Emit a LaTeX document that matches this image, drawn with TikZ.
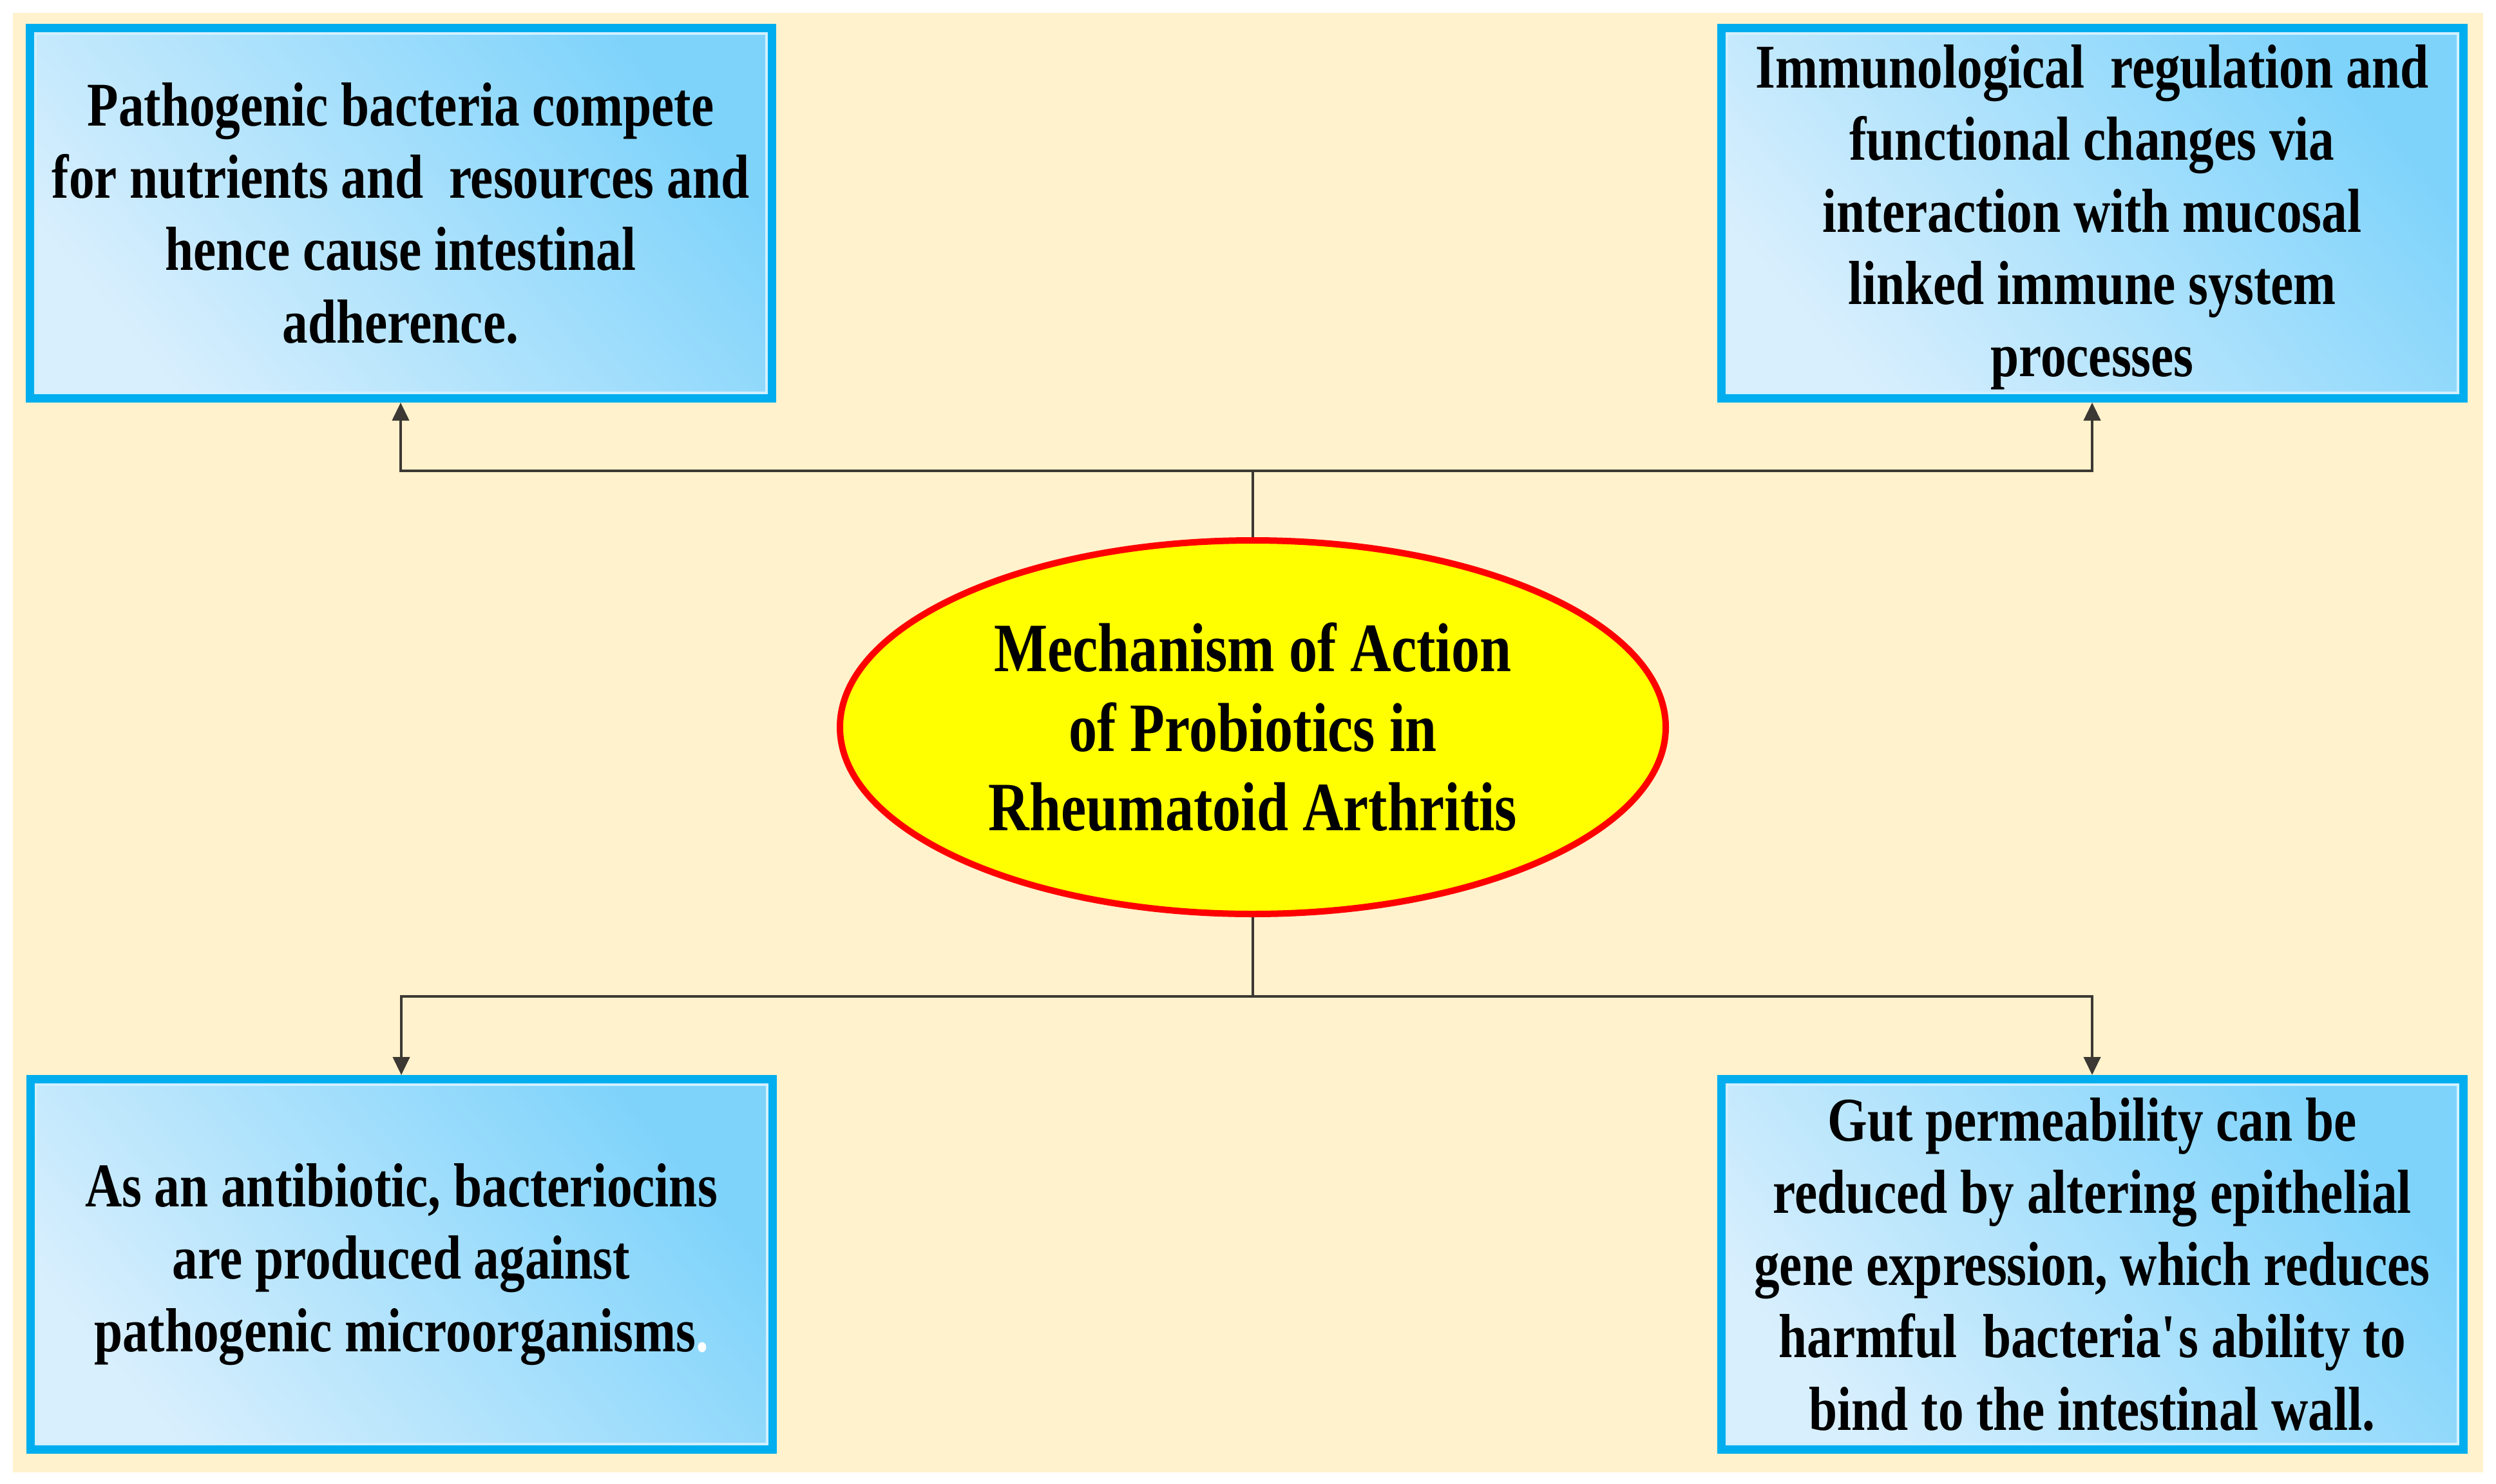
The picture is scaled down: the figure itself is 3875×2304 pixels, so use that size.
\documentclass[tikz,border=0pt]{standalone}
\usepackage{fontspec}
\setmainfont{Liberation Serif}
\newfontfamily\condfont[FakeStretch=0.82]{Liberation Serif}
\usetikzlibrary{shapes.geometric,arrows.meta,calc}
\definecolor{cream}{HTML}{FFF2CC}
\definecolor{boxborder}{HTML}{00AEEF}
\definecolor{boxdark}{HTML}{7ED3FB}
\definecolor{boxlight}{HTML}{D8EFFD}
\definecolor{boxhl}{HTML}{D2F0FF}
\definecolor{connline}{HTML}{3C3833}
\definecolor{hubfill}{HTML}{FFFF00}
\definecolor{hubline}{HTML}{FF0000}
\tikzset{
  infobox/.style={rectangle, draw=boxborder, line width=1.3mm,
    top color=boxdark, bottom color=boxlight, shading angle=-50,
    minimum width=115.2mm, minimum height=57.5mm, inner sep=0pt,
    align=center, font=\condfont\fontsize{27.5}{31.9}\selectfont\bfseries},
  hub/.style={ellipse, draw=hubline, line width=1mm, fill=hubfill,
    minimum width=128.2mm, minimum height=58mm, inner sep=0pt,
    align=center, font=\condfont\fontsize{30.6}{35.2}\selectfont\bfseries},
  conn/.style={draw=connline, line width=0.42mm},
  arr/.style={conn, -{Triangle[length=2.8mm,width=2.6mm]}},
  inhl/.style={draw=boxhl, line width=0.4mm}
}
\begin{document}
\begin{tikzpicture}[x=0.1mm,y=-0.1mm]
\useasboundingbox (0,0) rectangle (3875,2304);
\fill[white] (0,0) rectangle (3875,2304);
\fill[cream] (20,20) rectangle (3855,2286);

\node[infobox] (tl) at (622,331) {Pathogenic bacteria compete\\for nutrients and\ \ resources and\\hence cause intestinal\\adherence.};
\node[infobox] (tr) at (3248,331) {\rule{0pt}{8mm}Immunological\ \ regulation and\\functional changes via\\interaction with mucosal\\linked immune\ system\\processes};
\node[infobox] (bl) at (623,1963) {As an antibiotic, bacteriocins\\are produced against\\pathogenic microorganisms{\color{white}.}};
\node[infobox] (br) at (3248,1963) {Gut permeability can be\\reduced by altering epithelial\\gene expression, which reduces\\harmful\ \ bacteria\textquotesingle s ability to\\bind to the intestinal wall.};

\foreach \b in {tl,tr,bl,br}{
  \draw[inhl] ($(\b.north west)+(15,15)$) rectangle ($(\b.south east)+(-15,-15)$);
}

\node[hub] (hub) at (1945,1129) {Mechanism of Action\\of Probiotics in\\Rheumatoid Arthritis};

\coordinate (tj) at (1945,731);
\coordinate (bj) at (1945,1547);
\draw[conn] (hub.north) -- (tj);
\draw[arr] (tj) -| (tl.south);
\draw[arr] (tj) -| (tr.south);
\draw[conn] (hub.south) -- (bj);
\draw[arr] (bj) -| (bl.north);
\draw[arr] (bj) -| (br.north);
\end{tikzpicture}
\end{document}
